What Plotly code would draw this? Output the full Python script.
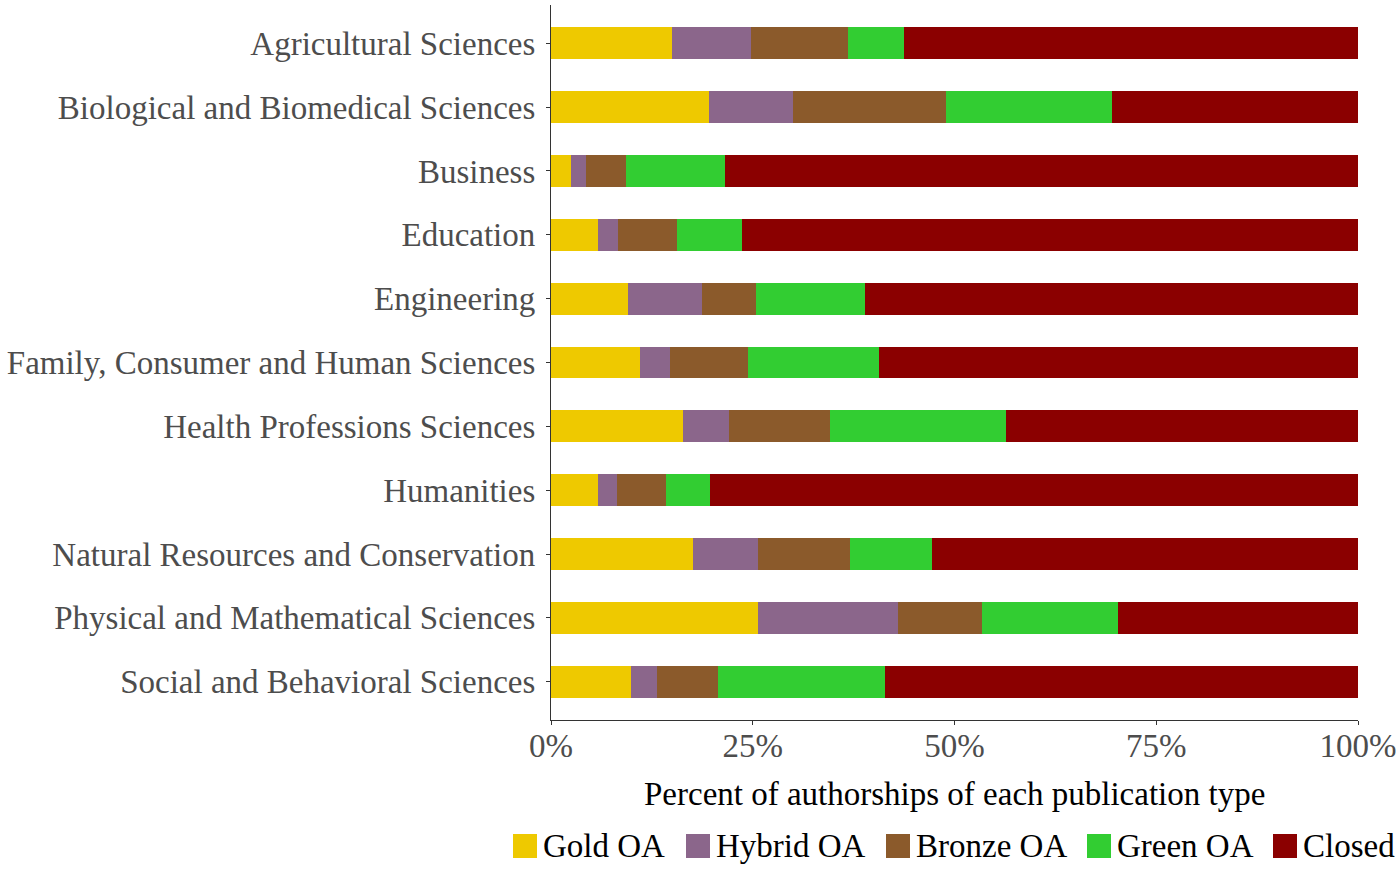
import plotly.graph_objects as go

categories = [
    "Agricultural Sciences",
    "Biological and Biomedical Sciences",
    "Business",
    "Education",
    "Engineering",
    "Family, Consumer and Human Sciences",
    "Health Professions Sciences",
    "Humanities",
    "Natural Resources and Conservation",
    "Physical and Mathematical Sciences",
    "Social and Behavioral Sciences",
]

gold_oa   = [15.0, 19.6, 2.5, 5.8, 9.5, 11.0, 16.4, 5.8, 17.6, 25.7, 9.9]
hybrid_oa = [9.8, 10.4, 1.8, 2.5, 9.2, 3.7, 5.7, 2.4, 8.1, 17.3, 3.2]
bronze_oa = [12.0, 18.9, 5.0, 7.3, 6.7, 9.7, 12.5, 6.1, 11.4, 10.4, 7.6]
green_oa  = [6.9, 20.6, 12.3, 8.1, 13.5, 16.2, 21.8, 5.4, 10.1, 16.9, 20.7]
closed    = [56.3, 30.5, 78.4, 76.3, 61.1, 59.4, 43.6, 80.3, 52.8, 29.7, 58.6]

series_names = ["Gold OA", "Hybrid OA", "Bronze OA", "Green OA", "Closed"]
series_values = [gold_oa, hybrid_oa, bronze_oa, green_oa, closed]
series_colors = ["#EEC900", "#8B668B", "#8B5A2B", "#32CD32", "#8B0000"]

tick_vals = [0, 25, 50, 75, 100]
tick_text = ["0%", "25%", "50%", "75%", "100%"]

FONT = "Liberation Serif"
FS = 33
W, H = 1400, 869
L, R, T, B = 551, 42, 5, 149

fig = go.Figure()
for name, vals, col in zip(series_names, series_values, series_colors):
    fig.add_trace(go.Bar(
        y=categories, x=vals, name=name, orientation="h",
        marker=dict(color=col, line=dict(width=0)),
        width=0.5, showlegend=False,
    ))

def px2x(px):
    return (px - L) / (W - L - R)

def px2y(py):
    return (H - B - py) / (H - T - B)

# axis title as annotation for exact placement
fig.add_annotation(xref="paper", yref="paper", x=0.5, y=px2y(794),
                   text="Percent of authorships of each publication type",
                   showarrow=False, xanchor="center", yanchor="middle",
                   font=dict(family=FONT, size=FS, color="#000000"))

# custom legend (large square keys like ggplot)
legend_key_px = [513, 686, 886, 1087, 1273]
key_size = 24
key_top = 834
for name, col, kx in zip(series_names, series_colors, legend_key_px):
    fig.add_shape(type="rect", xref="paper", yref="paper",
                  x0=px2x(kx), x1=px2x(kx + key_size),
                  y0=px2y(key_top + key_size), y1=px2y(key_top),
                  fillcolor=col, line=dict(width=0))
    fig.add_annotation(xref="paper", yref="paper",
                       x=px2x(kx + key_size + 4), y=px2y(key_top + key_size / 2),
                       text=name, showarrow=False, xanchor="left", yanchor="middle",
                       font=dict(family=FONT, size=FS, color="#000000"))

fig.update_layout(
    barmode="stack",
    width=W, height=H,
    margin=dict(l=L, r=R, t=T, b=B, pad=0, autoexpand=False),
    paper_bgcolor="white", plot_bgcolor="white",
    font=dict(family=FONT, size=FS, color="#4D4D4D"),
    xaxis=dict(
        range=[0, 100], tickvals=tick_vals, ticktext=tick_text,
        showline=True, linecolor="#333333", linewidth=1.2,
        ticks="outside", ticklen=4, tickcolor="#333333", tickwidth=1.2,
        showgrid=False, zeroline=False, automargin=False,
        tickfont=dict(family=FONT, size=FS, color="#4D4D4D"),
        ticklabelstandoff=-8,
    ),
    yaxis=dict(
        categoryorder="array", categoryarray=categories,
        range=[len(categories) - 0.4, -0.6],
        showline=True, linecolor="#333333", linewidth=1.2,
        ticks="outside", ticklen=4, tickcolor="#333333", tickwidth=1.2,
        showgrid=False, zeroline=False, automargin=False,
        tickfont=dict(family=FONT, size=FS, color="#4D4D4D"),
        ticklabelstandoff=4,
    ),
    showlegend=False,
)

fig.write_html("out.html")
